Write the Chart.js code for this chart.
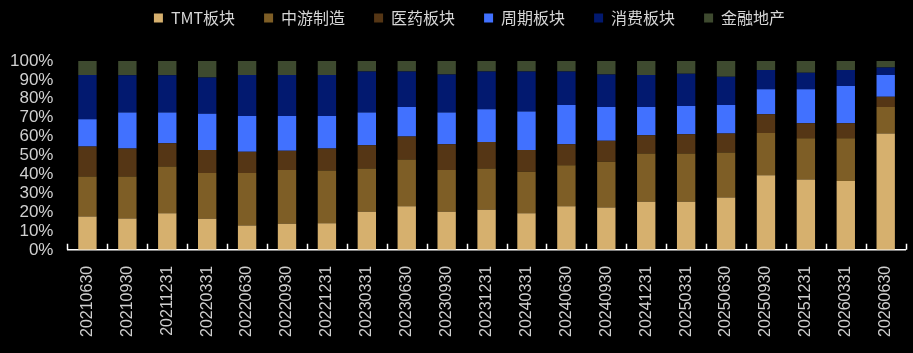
<!DOCTYPE html>
<html>
<head>
<meta charset="utf-8">
<script src="https://cdn.jsdelivr.net/npm/chart.js@4"></script>
<style>
    html, body { margin: 0; padding: 0; background: #000; }
    #chart { display: block; }
</style>
</head>
<body>
<canvas id="chart" width="913" height="353"></canvas>
<script>
// 报告期
const periods = ['20210630', '20210930', '20211231', '20220331', '20220630', '20220930', '20221231',
    '20230331', '20230630', '20230930', '20231231', '20240331', '20240630', '20240930',
    '20241231', '20250331', '20250630', '20250930', '20251231', '20260331', '20260630'];

// 各板块占比 (%)
const tmt = [17.6, 16.6, 19.4, 16.4, 12.9, 13.8, 14.1, 20.1, 23.1, 20.1, 21.2, 19.4, 23.1, 22.4, 25.4, 25.4, 27.7, 39.5, 37.2, 36.5, 61.6];
const midstream = [21.2, 22.2, 24.7, 24.3, 27.8, 28.5, 27.9, 22.9, 24.7, 22.2, 21.8, 21.9, 21.7, 24.2, 25.6, 25.6, 23.8, 22.4, 21.9, 22.6, 14.1];
const pharma = [15.9, 14.8, 12.3, 12.2, 11.2, 10.1, 11.6, 12.4, 12.2, 13.6, 14.1, 11.6, 11.1, 11.1, 9.7, 10.2, 10.1, 9.9, 7.9, 7.9, 5.3];
const cyclical = [14.4, 19.1, 16.3, 19.1, 19.0, 18.5, 17.3, 17.3, 15.7, 16.8, 17.3, 20.3, 20.8, 18.0, 15.0, 15.0, 15.1, 13.2, 18.0, 19.8, 11.6];
const consumer = [23.5, 19.7, 19.7, 19.2, 21.7, 21.7, 21.7, 21.7, 18.7, 20.2, 20.0, 21.2, 17.7, 17.2, 16.9, 17.1, 15.0, 10.2, 8.8, 8.4, 3.9];
const finance = [7.4, 7.6, 7.6, 8.8, 7.4, 7.4, 7.4, 5.6, 5.6, 7.1, 5.6, 5.6, 5.6, 7.1, 7.4, 6.7, 8.3, 4.8, 6.2, 4.8, 3.5];

const yTicks = [0, 10, 20, 30, 40, 50, 60, 70, 80, 90, 100];

const seriesNames = ['TMT板块', '中游制造', '医药板块', '周期板块', '消费板块', '金融地产'];
const seriesColors = ['#D6B06E', '#7E5E26', '#553615', '#4171FF', '#02196F', '#3E4A2F'];
const seriesData = [tmt, midstream, pharma, cyclical, consumer, finance];

// x轴向上的刻度线
const innerTicks = {
    id: 'innerTicks',
    afterDraw(chart) {
        const x = chart.scales.x;
        const ctx = chart.ctx;
        const half = (x.getPixelForValue(1) - x.getPixelForValue(0)) / 2;
        ctx.save();
        ctx.strokeStyle = '#ffffff';
        ctx.lineWidth = 1.5;
        ctx.beginPath();
        for (let i = 0; i <= periods.length; i++) {
            const px = Math.round(x.getPixelForValue(i) - half) + 0.5;
            ctx.moveTo(px, x.top);
            ctx.lineTo(px, x.top - 6);
        }
        ctx.stroke();
        ctx.restore();
    }
};

// 固定图例高度, 并稍微右移
const legendTweak = {
    id: 'legendTweak',
    afterInit(chart) {
        const legend = chart.legend;
        const origFit = legend.fit;
        const origDraw = legend.draw;
        legend.fit = function() {
            origFit.call(this);
            this.height = 80;
        };
        legend.draw = function() {
            this.ctx.save();
            this.ctx.translate(13, 0);
            origDraw.call(this);
            this.ctx.restore();
        };
    }
};

const ctx = document.getElementById('chart').getContext('2d');
new Chart(ctx, {
    type: 'bar',
    data: {
        labels: periods,
        datasets: seriesData.map((d, i) => ({
            label: seriesNames[i],
            data: d,
            backgroundColor: seriesColors[i],
            borderWidth: 0,
            barPercentage: 0.46,
            categoryPercentage: 1
        }))
    },
    options: {
        responsive: false,
        animation: false,
        layout: { padding: { left: 4, right: 4, top: -19, bottom: 8 } },
        scales: {
            x: {
                stacked: true,
                grid: { display: false },
                border: { display: true, color: '#ffffff', width: 1.5 },
                ticks: {
                    color: '#cfcfcf',
                    font: { family: 'Liberation Sans, Arial, sans-serif', size: 16 },
                    minRotation: 90,
                    maxRotation: 90,
                    autoSkip: false,
                    padding: 8
                }
            },
            y: {
                stacked: true,
                min: 0,
                max: 100,
                afterBuildTicks(scale) {
                    scale.ticks = yTicks.map(v => ({ value: v }));
                },
                grid: { display: false },
                border: { display: false },
                ticks: {
                    color: '#d0d0d0',
                    font: { family: 'Liberation Sans, Arial, sans-serif', size: 17 },
                    autoSkip: false,
                    padding: 6,
                    callback: v => v + '%'
                }
            }
        },
        plugins: {
            legend: {
                position: 'top',
                labels: {
                    color: '#d6d6d6',
                    boxWidth: 9,
                    boxHeight: 9,
                    padding: 29,
                    font: { family: 'Noto Sans CJK SC, sans-serif', size: 16 }
                }
            },
            tooltip: { enabled: false }
        }
    },
    plugins: [innerTicks, legendTweak]
});
</script>
</body>
</html>
